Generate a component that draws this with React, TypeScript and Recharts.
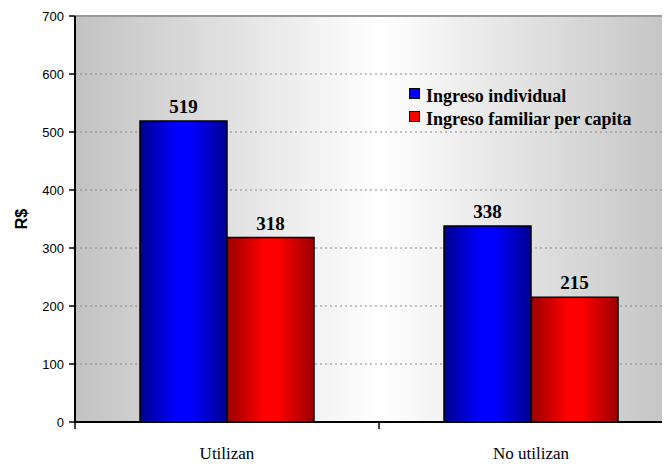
import React from 'react';
import { BarChart, Bar, XAxis, YAxis, CartesianGrid, LabelList, Legend, ReferenceLine } from 'recharts';

const categories = ['Utilizan', 'No utilizan'];
const ingresoIndividual = [519, 338];
const ingresoFamiliar = [318, 215];
const yTicks = [0, 100, 200, 300, 400, 500, 600, 700];
const seriesNames = ['Ingreso individual', 'Ingreso familiar per capita'];
const seriesColors = ['#0000ff', '#ff0000'];

const data = categories.map((c, i) => ({
  name: c,
  ind: ingresoIndividual[i],
  fam: ingresoFamiliar[i],
}));

const SERIF = '"Liberation Serif", "Times New Roman", serif';
const SANS = '"Liberation Sans", Arial, sans-serif';

const XTick = (props: any) => {
  const { x, y, payload, index } = props;
  const half = 152;
  return (
    <g>
      {index === 0 && <line x1={x - half} y1={y - 8} x2={x - half} y2={y - 1} stroke="#000" strokeWidth={1.5} />}
      <line x1={x + half} y1={y - 8} x2={x + half} y2={y - 1} stroke="#000" strokeWidth={1.5} />
      <text x={x} y={y + 29} textAnchor="middle" fontFamily={SERIF} fontSize={17} fill="#000">
        {payload.value}
      </text>
    </g>
  );
};

const LegendContent = () => (
  <div
    style={{
      fontFamily: SERIF,
      fontWeight: 700,
      fontSize: 18,
      color: '#000',
      textAlign: 'left',
    }}
  >
    {seriesNames.map((n, i) => (
      <div key={n} style={{ display: 'flex', alignItems: 'flex-start', height: 23, lineHeight: '23px', whiteSpace: 'nowrap' }}>
        <div
          style={{
            width: 9,
            height: 9,
            marginTop: 3,
            marginRight: 6,
            background: seriesColors[i],
            border: '1.5px solid #000',
            flex: 'none',
          }}
        />
        <span style={{ fontFamily: SERIF, fontWeight: 700, fontSize: 18 }}>{n}</span>
      </div>
    ))}
  </div>
);

export default function App() {
  return (
    <div style={{ width: 662, height: 456, overflow: 'hidden', position: 'relative' }}>
      <BarChart
        width={680}
        height={456}
        data={data}
        margin={{ top: 8, right: 5, bottom: 0, left: 0 }}
        barGap={0}
      >
        <defs>
          <linearGradient id="bg" x1="0" y1="0" x2="1" y2="0">
            <stop offset="0" stopColor="#c2c2c2" />
            <stop offset="0.5" stopColor="#ffffff" />
            <stop offset="1" stopColor="#c2c2c2" />
          </linearGradient>
          <linearGradient id="blueGrad" x1="0" y1="0" x2="1" y2="0">
            <stop offset="0" stopColor="#000090" />
            <stop offset="0.42" stopColor="#0000ff" />
            <stop offset="0.58" stopColor="#0000ff" />
            <stop offset="1" stopColor="#000090" />
          </linearGradient>
          <linearGradient id="redGrad" x1="0" y1="0" x2="1" y2="0">
            <stop offset="0" stopColor="#990000" />
            <stop offset="0.42" stopColor="#ff0000" />
            <stop offset="0.58" stopColor="#ff0000" />
            <stop offset="1" stopColor="#990000" />
          </linearGradient>
        </defs>
        <CartesianGrid
          vertical={false}
          fill="url(#bg)"
          fillOpacity={1}
          stroke="#8a8a8a"
          strokeDasharray="2 3"
        />
        <ReferenceLine y={700} stroke="#9a9a9a" strokeWidth={2} />
        <XAxis
          dataKey="name"
          height={42}
          axisLine={{ stroke: '#000', strokeWidth: 2 }}
          tickLine={false}
          tick={<XTick />}
          interval={0}
        />
        <YAxis
          width={67}
          domain={[0, 700]}
          ticks={yTicks}
          interval={0}
          axisLine={{ stroke: '#000', strokeWidth: 2 }}
          tickLine={{ stroke: '#000', strokeWidth: 1.5 }}
          tickSize={6}
          tickMargin={5}
          tick={{ fontFamily: SANS, fontSize: 13, fill: '#000' }}
          label={{
            content: (p: any) => {
              const vb = p.viewBox || { x: 0, y: 8, width: 67, height: 406 };
              const cx = vb.x + 13;
              const cy = vb.y + vb.height / 2;
              return (
                <text
                  x={cx}
                  y={cy}
                  transform={`rotate(-90 ${cx} ${cy})`}
                  textAnchor="middle"
                  dominantBaseline="central"
                  fontFamily={SANS}
                  fontWeight="bold"
                  fontSize={16}
                  fill="#000"
                >
                  R$
                </text>
              );
            },
          }}
        />
        <Legend
          layout="vertical"
          align="center"
          verticalAlign="middle"
          wrapperStyle={{ position: 'absolute', left: 401, top: 77, width: 260 }}
          content={<LegendContent />}
        />
        <Bar dataKey="ind" name={seriesNames[0]} barSize={87} fill="url(#blueGrad)" stroke="#000" strokeWidth={1.5} isAnimationActive={false}>
          <LabelList dataKey="ind" position="top" offset={8} style={{ fontFamily: SERIF, fontWeight: 'bold', fontSize: 19, fill: '#000' }} />
        </Bar>
        <Bar dataKey="fam" name={seriesNames[1]} barSize={87} fill="url(#redGrad)" stroke="#000" strokeWidth={1.5} isAnimationActive={false}>
          <LabelList dataKey="fam" position="top" offset={8} style={{ fontFamily: SERIF, fontWeight: 'bold', fontSize: 19, fill: '#000' }} />
        </Bar>
      </BarChart>
    </div>
  );
}
